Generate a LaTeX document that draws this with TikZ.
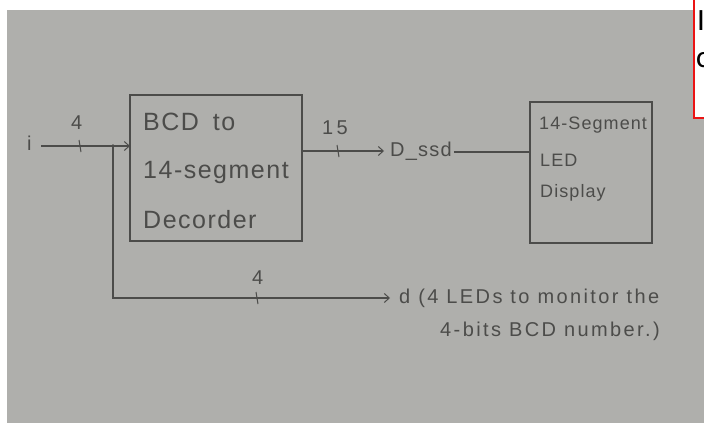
\documentclass[tikz,border=0pt]{standalone}
\usepackage{fontspec}
\usetikzlibrary{arrows.meta}
\newfontfamily\hand[LetterSpace=6]{Liberation Sans}
\newfontfamily\handw[LetterSpace=12]{Liberation Sans}
\newfontfamily\notefont{Carlito}
\definecolor{paper}{RGB}{175,175,172}
\definecolor{pencil}{RGB}{76,76,74}
\definecolor{notered}{RGB}{235,20,20}
\tikzset{
  wire/.style={draw=pencil, line width=1.1pt},
  barb/.style={-{Straight Barb[length=5pt,width=9pt,line width=1pt]}},
  blockbox/.style={draw=pencil, line width=1.1pt, inner sep=0pt},
  txt/.style={text=pencil, inner sep=0pt, anchor=west},
  tick/.style={draw=pencil, line width=1pt},
}
\begin{document}
\begin{tikzpicture}[x=1pt,y=-1pt]
\useasboundingbox (0,0) rectangle (704,423);
\fill[white] (0,0) rectangle (704,423);
\fill[paper] (7,10) rectangle (704,423);

% red annotation box (cut off at the edge, as in the reference)
\node[draw=notered, line width=2pt, fill=white, minimum width=40pt, minimum height=130pt, anchor=north west, inner sep=0pt] (note) at (693,-13) {};
\node[inner sep=0pt, anchor=base west] (noteA) at (697,30) {\notefont\fontsize{31}{37}\selectfont I};
\node[inner sep=0pt, anchor=base west] (noteB) at (696,67) {\notefont\fontsize{31}{37}\selectfont c};

% decoder block
\node[blockbox, minimum width=172pt, minimum height=146pt] (dec) at (216,168) {};
\node[txt] (d1) at (143,122) {\hand\fontsize{25}{29}\selectfont BCD\hspace{14pt}to};
\node[txt] (d2) at (143,172) {\hand\fontsize{25}{29}\selectfont 14-segment};
\node[txt] (d3) at (143,220) {\hand\fontsize{25}{29}\selectfont Decorder};

% display block
\node[blockbox, minimum width=122pt, minimum height=141pt] (disp) at (591,172.5) {};
\node[txt] (s1) at (539,125) {\hand\fontsize{18}{21}\selectfont 14-Segment};
\node[txt] (s2) at (540,160) {\hand\fontsize{18}{21}\selectfont LED};
\node[txt] (s3) at (540,193) {\hand\fontsize{18}{21}\selectfont Display};

% input
\node[txt] (ilbl) at (27,143) {\hand\fontsize{20}{22}\selectfont i};
\coordinate (iin) at (41,146);
\coordinate (j) at (113,146);
\coordinate (decin) at (130,146);
\draw[wire, barb] (iin) -- (decin);
\fill[pencil] (j) circle (1.8pt);
\draw[tick] (79,140) -- (81,152);
\node[txt] (four1) at (71,123) {\hand\fontsize{20}{22}\selectfont 4};

% output to D_ssd
\coordinate (decout) at (302,151);
\node[txt] (dssd) at (390,151) {\hand\fontsize{20}{22}\selectfont D\_ssd};
\draw[wire, barb] (decout) -- ([xshift=-6pt]dssd.west);
\draw[tick] (337,145) -- (339,157);
\node[txt] (fifteen) at (322,128) {\hand\fontsize{20}{22}\selectfont 1\,5};
\coordinate (dispin) at (530,152);
\draw[wire] ([xshift=2pt]dssd.east |- dispin) -- (dispin);

% bottom branch
\node[txt] (dlbl) at (399,298) {\handw\fontsize{20}{23}\selectfont d (4 LEDs to monitor the};
\node[txt] (dlbl2) at (440,331) {\handw\fontsize{20}{23}\selectfont 4-bits BCD number.)};
\coordinate (dend) at (390,298);
\draw[wire, barb] (j) |- (dend);
\draw[tick] (256,292) -- (258,304);
\node[txt] (four2) at (252,278) {\hand\fontsize{20}{22}\selectfont 4};
\end{tikzpicture}
\end{document}
